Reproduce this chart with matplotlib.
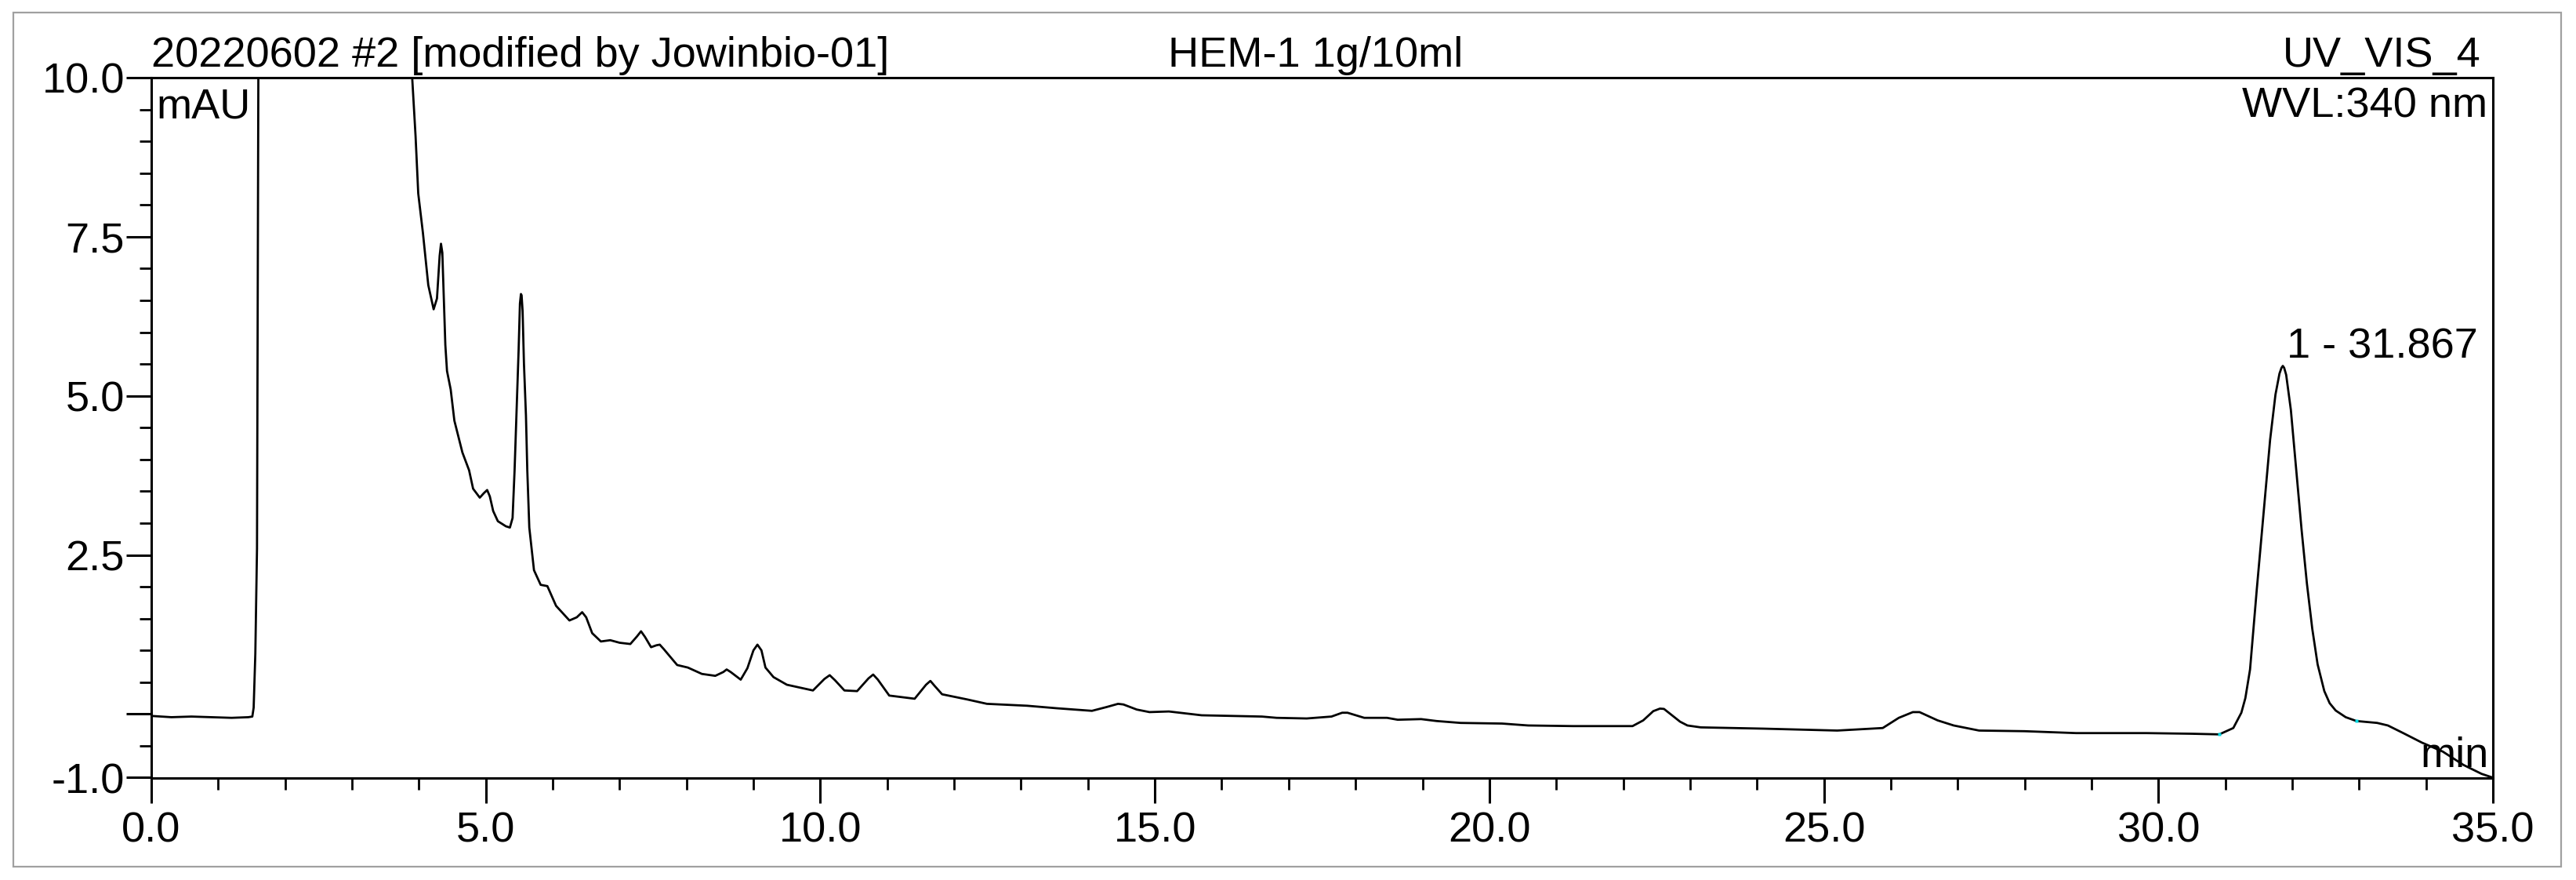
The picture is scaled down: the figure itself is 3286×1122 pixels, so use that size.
import matplotlib
matplotlib.use('Agg')
import matplotlib.pyplot as plt
from matplotlib.ticker import MultipleLocator, FixedLocator, FixedFormatter
from matplotlib.patches import Rectangle

plt.rcParams['font.family'] = ['Liberation Sans', 'DejaVu Sans']

# ---- data (time in min, signal in mAU) ----
time_min = [
    0.00, 0.30, 0.60, 0.90, 1.20, 1.45, 1.51, 1.53, 1.555, 1.58, 1.60, 1.62,
    3.88, 3.90, 3.95, 3.99, 4.06, 4.14, 4.22, 4.27, 4.31, 4.33, 4.35, 4.37, 4.395, 4.42,
    4.475, 4.53, 4.65, 4.75, 4.81, 4.91, 4.97, 5.02, 5.06, 5.11, 5.18, 5.30, 5.36, 5.40,
    5.43, 5.46, 5.49, 5.51, 5.525, 5.535, 5.55, 5.57, 5.60, 5.62, 5.65, 5.72, 5.82,
    5.92, 6.05, 6.25, 6.36, 6.44, 6.50, 6.59, 6.72, 6.86, 7.00, 7.16, 7.26, 7.32, 7.38,
    7.47, 7.55, 7.60, 7.66,
    7.86, 8.02, 8.23, 8.43, 8.55, 8.60, 8.66, 8.81, 8.91, 9.00, 9.06, 9.12, 9.18, 9.30,
    9.50, 9.72, 9.89, 10.06, 10.14, 10.22, 10.36, 10.55, 10.72, 10.79, 10.86, 11.03,
    11.41, 11.58, 11.645, 11.71, 11.82, 12.19, 12.49,
    13.09, 13.54, 14.06, 14.28, 14.45, 14.53, 14.73, 14.92, 15.21, 15.70, 16.60, 16.82,
    17.27, 17.64, 17.80, 17.88, 18.13, 18.47, 18.63, 18.98, 19.21, 19.57, 20.19, 20.58,
    21.25, 22.14, 22.30, 22.45, 22.55, 22.61, 22.69, 22.85, 22.96, 23.16, 24.10, 25.20,
    25.88, 26.12, 26.33, 26.43, 26.70, 26.94, 27.32, 28.00, 28.77, 29.82, 30.50, 30.91,
    31.12, 31.24, 31.30, 31.37, 31.47, 31.57, 31.67, 31.75, 31.81, 31.84, 31.86, 31.88,
    31.91, 31.98, 32.06, 32.14, 32.22, 32.30, 32.38, 32.48, 32.56, 32.65, 32.80, 32.96,
    33.27, 33.43, 33.66, 33.94, 34.25, 34.56, 34.83, 35.00,
]
signal_mau = [
    -0.03, -0.05, -0.04, -0.05, -0.06, -0.05, -0.04, 0.10, 0.95, 2.60, 10.00, 11.50,
    11.50, 9.99, 9.08, 8.18, 7.56, 6.74, 6.36, 6.53, 7.20, 7.39, 7.25, 6.60, 5.80, 5.39,
    5.10, 4.61, 4.11, 3.83, 3.54, 3.40, 3.47, 3.52, 3.42, 3.19, 3.03, 2.95, 2.93, 3.08,
    3.83, 4.77, 5.71, 6.45, 6.60, 6.58, 6.33, 5.51, 4.69, 3.83, 2.93, 2.26, 2.03,
    2.01, 1.70, 1.47, 1.52, 1.60, 1.52, 1.27, 1.14, 1.16, 1.12, 1.10, 1.22, 1.30, 1.21,
    1.05, 1.08, 1.09, 1.02,
    0.77, 0.73, 0.63, 0.60, 0.66, 0.70, 0.66, 0.54, 0.72, 1.00, 1.09, 1.00, 0.73, 0.58,
    0.46, 0.41, 0.37, 0.55, 0.61, 0.53, 0.37, 0.36, 0.56, 0.62, 0.54, 0.29,
    0.24, 0.46, 0.52, 0.44, 0.31, 0.23, 0.16,
    0.13, 0.09, 0.05, 0.11, 0.16, 0.15, 0.07, 0.03, 0.04, -0.02, -0.04, -0.06,
    -0.07, -0.04, 0.02, 0.02, -0.06, -0.06, -0.09, -0.08, -0.11, -0.14, -0.15, -0.18,
    -0.19, -0.19, -0.10, 0.045, 0.085, 0.08, 0.013, -0.12, -0.18, -0.21, -0.23, -0.26,
    -0.22, -0.06, 0.03, 0.03, -0.10, -0.18, -0.26, -0.27, -0.30, -0.30, -0.31, -0.32,
    -0.22, 0.02, 0.25, 0.70, 1.95, 3.13, 4.31, 5.02, 5.35, 5.44, 5.47, 5.44,
    5.33, 4.78, 3.84, 2.90, 2.05, 1.34, 0.78, 0.36, 0.17, 0.055, -0.05, -0.11,
    -0.14, -0.18, -0.30, -0.45, -0.59, -0.80, -0.94, -1.00,
]

peak_label = "1 - 31.867"
peak_time = 31.867
peak_height = 5.47
delimiter_time = [30.91, 32.96]
delimiter_signal = [-0.32, -0.11]

x_ticks = [0.0, 5.0, 10.0, 15.0, 20.0, 25.0, 30.0, 35.0]
x_tick_labels = ["0.0", "5.0", "10.0", "15.0", "20.0", "25.0", "30.0", "35.0"]
y_ticks = [-1.0, 0.0, 2.5, 5.0, 7.5, 10.0]
y_tick_labels = ["-1.0", "", "2.5", "5.0", "7.5", "10.0"]

title_left = "20220602 #2 [modified by Jowinbio-01]"
title_center = "HEM-1 1g/10ml"
title_right = "UV_VIS_4"
wavelength_text = "WVL:340 nm"
y_unit = "mAU"
x_unit = "min"

# ---- figure ----
W, H = 3286, 1122
fig = plt.figure(figsize=(W / 100, H / 100), dpi=100)
fig.patch.set_facecolor('white')

AX_L, AX_R, AX_T, AX_B = 193, 3180, 99, 991.5
ax = fig.add_axes([AX_L / W, 1 - AX_B / H, (AX_R - AX_L) / W, (AX_B - AX_T) / H])

ax.plot(time_min, signal_mau, color='black', lw=2.0, solid_joinstyle='round', zorder=2)
ax.plot(delimiter_time, delimiter_signal, ls='none', marker='s', ms=2.2,
        color='#00d8e0', mec='none', zorder=3)

ax.set_xlim(0, 35)
ax.set_ylim(-1, 10)

ax.xaxis.set_major_locator(FixedLocator(x_ticks))
ax.xaxis.set_major_formatter(FixedFormatter(x_tick_labels))
ax.xaxis.set_minor_locator(MultipleLocator(1.0))
ax.yaxis.set_major_locator(FixedLocator(y_ticks))
ax.yaxis.set_major_formatter(FixedFormatter(y_tick_labels))
ax.yaxis.set_minor_locator(MultipleLocator(0.5))

for sp in ax.spines.values():
    sp.set_linewidth(2.2)
    sp.set_color('black')

FS = 39
ax.tick_params(axis='both', which='major', direction='out', length=23, width=2.2,
               labelsize=FS, colors='black')
ax.tick_params(axis='x', which='major', pad=8)
ax.tick_params(axis='y', which='major', pad=1.5)
ax.tick_params(axis='both', which='minor', direction='out', length=11, width=2.0)

# peak annotation
ax.annotate(peak_label, xy=(peak_time, peak_height), xytext=(3, 7),
            textcoords='offset points', ha='left', va='baseline', fontsize=FS)

def ftext(x, y, s, **kw):
    fig.text(x / W, 1 - y / H, s, fontsize=FS, color='black', **kw)

ftext(AX_L, 85, title_left, ha='left', va='baseline')
ftext(1678, 85, title_center, ha='center', va='baseline')
ftext(3165, 85, title_right, ha='right', va='baseline')
ftext(3173, 150, wavelength_text, ha='right', va='baseline')
ftext(199, 151, y_unit, ha='left', va='baseline')
ftext(3175, 978, x_unit, ha='right', va='baseline')

# outer grey frame
fig.add_artist(Rectangle((17 / W, 1 - 1105 / H), (3267 - 17) / W, (1105 - 16) / H,
                         transform=fig.transFigure, fill=False,
                         edgecolor='#a0a0a0', lw=1.6))

fig.savefig('out.png', dpi=100, facecolor='white')
